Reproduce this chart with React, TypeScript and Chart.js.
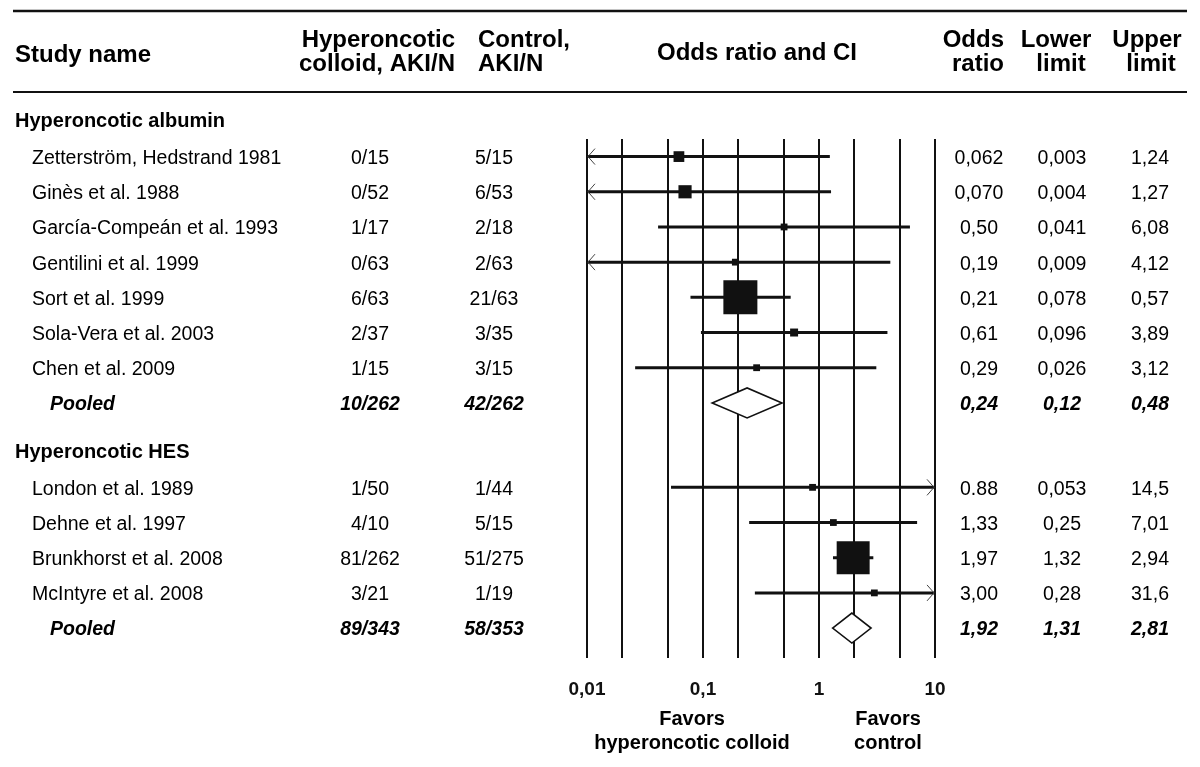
import React, { useEffect, useRef } from 'react';
import { Chart, registerables } from 'chart.js';

Chart.register(...registerables);

// ---------- data ----------
const albuminStudies = [
  'Zetterström, Hedstrand 1981',
  'Ginès et al. 1988',
  'García-Compeán et al. 1993',
  'Gentilini et al. 1999',
  'Sort et al. 1999',
  'Sola-Vera et al. 2003',
  'Chen et al. 2009',
];
const albuminColloid = ['0/15', '0/52', '1/17', '0/63', '6/63', '2/37', '1/15'];
const albuminControl = ['5/15', '6/53', '2/18', '2/63', '21/63', '3/35', '3/15'];
const albuminOR = ['0,062', '0,070', '0,50', '0,19', '0,21', '0,61', '0,29'];
const albuminLower = ['0,003', '0,004', '0,041', '0,009', '0,078', '0,096', '0,026'];
const albuminUpper = ['1,24', '1,27', '6,08', '4,12', '0,57', '3,89', '3,12'];
const albuminWeight = [10, 15, 4, 4, 100, 5.5, 4];
const albuminPooled = ['10/262', '42/262', '0,24', '0,12', '0,48'];

const hesStudies = ['London et al. 1989', 'Dehne et al. 1997', 'Brunkhorst et al. 2008', 'McIntyre et al. 2008'];
const hesColloid = ['1/50', '4/10', '81/262', '3/21'];
const hesControl = ['1/44', '5/15', '51/275', '1/19'];
const hesOR = ['0.88', '1,33', '1,97', '3,00'];
const hesLower = ['0,053', '0,25', '1,32', '0,28'];
const hesUpper = ['14,5', '7,01', '2,94', '31,6'];
const hesWeight = [4, 4, 94, 4];
const hesPooled = ['89/343', '58/353', '1,92', '1,31', '2,81'];

const groupTitles = ['Hyperoncotic albumin', 'Hyperoncotic HES'];
const pooledLabel = 'Pooled';

const axisTicks = [0.01, 0.02, 0.05, 0.1, 0.2, 0.5, 1, 2, 5, 10];
const axisTickLabels: Record<string, string> = { '0.01': '0,01', '0.1': '0,1', '1': '1', '10': '10' };

// ---------- helpers ----------
const num = (s: string) => parseFloat(s.replace(',', '.'));
const FONT = '"Liberation Sans", Arial, Helvetica, sans-serif';
const INK = '#111111';
const GROUP_GAP = 1.4;

type Row = {
  kind: 'header' | 'study' | 'pooled';
  pos: number;
  label: string;
  colloid?: string;
  control?: string;
  or?: string;
  lower?: string;
  upper?: string;
  weight?: number;
};

function buildRows(): Row[] {
  const rows: Row[] = [];
  const groups = [
    { title: groupTitles[0], names: albuminStudies, col: albuminColloid, ctl: albuminControl, or: albuminOR, lo: albuminLower, up: albuminUpper, w: albuminWeight, pooled: albuminPooled },
    { title: groupTitles[1], names: hesStudies, col: hesColloid, ctl: hesControl, or: hesOR, lo: hesLower, up: hesUpper, w: hesWeight, pooled: hesPooled },
  ];
  let pos = 0;
  groups.forEach((g, gi) => {
    if (gi > 0) pos += GROUP_GAP;
    rows.push({ kind: 'header', pos, label: g.title });
    g.names.forEach((n, i) => {
      pos += 1;
      rows.push({ kind: 'study', pos, label: n, colloid: g.col[i], control: g.ctl[i], or: g.or[i], lower: g.lo[i], upper: g.up[i], weight: g.w[i] });
    });
    pos += 1;
    rows.push({ kind: 'pooled', pos, label: pooledLabel, colloid: g.pooled[0], control: g.pooled[1], or: g.pooled[2], lower: g.pooled[3], upper: g.pooled[4] });
  });
  return rows;
}

const rows = buildRows();
const studyRows = rows.filter((r) => r.kind === 'study');

const forestPlugin = {
  id: 'forest',
  beforeDatasetsDraw(chart: any) {
    const { ctx, chartArea } = chart;
    const x = chart.scales.x;
    const y = chart.scales.y;
    ctx.save();
    for (const r of rows) {
      if (r.kind === 'header') continue;
      const py = y.getPixelForValue(r.pos);
      const lo = num(r.lower!);
      const hi = num(r.upper!);
      const or = num(r.or!);
      if (r.kind === 'study') {
        const x1 = Math.max(chartArea.left, x.getPixelForValue(lo));
        const x2 = Math.min(chartArea.right, x.getPixelForValue(hi));
        ctx.strokeStyle = INK;
        ctx.lineWidth = 3;
        ctx.beginPath();
        ctx.moveTo(x1, py);
        ctx.lineTo(x2, py);
        ctx.stroke();
        ctx.lineWidth = 1;
        ctx.strokeStyle = '#444';
        if (lo < x.min) {
          ctx.beginPath();
          ctx.moveTo(chartArea.left + 8, py - 8);
          ctx.lineTo(chartArea.left + 1, py);
          ctx.lineTo(chartArea.left + 8, py + 8);
          ctx.stroke();
        }
        if (hi > x.max) {
          ctx.beginPath();
          ctx.moveTo(chartArea.right - 8, py - 8);
          ctx.lineTo(chartArea.right - 1, py);
          ctx.lineTo(chartArea.right - 8, py + 8);
          ctx.stroke();
        }
      } else {
        const xl = x.getPixelForValue(lo);
        const xr = x.getPixelForValue(hi);
        const xc = x.getPixelForValue(or);
        const h = 15;
        ctx.beginPath();
        ctx.moveTo(xl, py);
        ctx.lineTo(xc, py - h);
        ctx.lineTo(xr, py);
        ctx.lineTo(xc, py + h);
        ctx.closePath();
        ctx.fillStyle = '#ffffff';
        ctx.fill();
        ctx.strokeStyle = INK;
        ctx.lineWidth = 1.6;
        ctx.stroke();
      }
    }
    ctx.restore();
  },
  afterDraw(chart: any) {
    const { ctx } = chart;
    const y = chart.scales.y;
    ctx.save();
    ctx.fillStyle = '#000';
    ctx.textBaseline = 'middle';

    // header rules
    ctx.strokeStyle = INK;
    ctx.lineWidth = 2.5;
    ctx.beginPath();
    ctx.moveTo(13, 11);
    ctx.lineTo(1187, 11);
    ctx.stroke();
    ctx.lineWidth = 2;
    ctx.beginPath();
    ctx.moveTo(13, 92);
    ctx.lineTo(1187, 92);
    ctx.stroke();

    // header texts
    ctx.font = `bold 24px ${FONT}`;
    ctx.textAlign = 'left';
    ctx.fillText('Study name', 15, 55);
    ctx.textAlign = 'right';
    ctx.fillText('Hyperoncotic', 455, 40);
    ctx.fillText('colloid, AKI/N', 455, 64);
    ctx.textAlign = 'left';
    ctx.fillText('Control,', 478, 40);
    ctx.fillText('AKI/N', 478, 64);
    ctx.textAlign = 'center';
    ctx.fillText('Odds ratio and CI', 757, 53);
    ctx.textAlign = 'right';
    ctx.fillText('Odds', 1004, 40);
    ctx.fillText('ratio', 1004, 64);
    ctx.textAlign = 'center';
    ctx.fillText('Lower', 1056, 40);
    ctx.fillText('limit', 1061, 64);
    ctx.fillText('Upper', 1147, 40);
    ctx.fillText('limit', 1151, 64);

    // rows
    for (const r of rows) {
      const py = y.getPixelForValue(r.pos) + 2;
      if (r.kind === 'header') {
        ctx.font = `bold 20px ${FONT}`;
        ctx.textAlign = 'left';
        ctx.fillText(r.label, 15, py - 2);
        continue;
      }
      if (r.kind === 'study') {
        ctx.font = `19.5px ${FONT}`;
        ctx.textAlign = 'left';
        ctx.fillText(r.label, 32, py);
      } else {
        ctx.font = `italic bold 19.5px ${FONT}`;
        ctx.textAlign = 'left';
        ctx.fillText(r.label, 50, py);
      }
      ctx.textAlign = 'center';
      ctx.fillText(r.colloid!, 370, py);
      ctx.fillText(r.control!, 494, py);
      ctx.fillText(r.or!, 979, py);
      ctx.fillText(r.lower!, 1062, py);
      ctx.fillText(r.upper!, 1150, py);
    }

    // favors labels
    ctx.font = `bold 20px ${FONT}`;
    ctx.textAlign = 'center';
    ctx.fillText('Favors', 692, 719);
    ctx.fillText('hyperoncotic colloid', 692, 743);
    ctx.fillText('Favors', 888, 719);
    ctx.fillText('control', 888, 743);
    ctx.restore();
  },
};

export default function App() {
  const ref = useRef<HTMLCanvasElement | null>(null);
  useEffect(() => {
    if (!ref.current) return;
    const chart = new Chart(ref.current, {
      type: 'scatter',
      data: {
        datasets: [
          {
            data: studyRows.map((r) => ({ x: num(r.or!), y: r.pos })),
            pointStyle: 'rect',
            pointRadius: studyRows.map((r) => (3.4 * Math.sqrt(r.weight!)) / Math.SQRT2),
            pointBackgroundColor: INK,
            pointBorderWidth: 0,
            pointHoverRadius: 0,
          },
        ],
      },
      options: {
        responsive: false,
        animation: false,
        events: [],
        layout: { padding: { left: 587, right: 265, top: 139, bottom: 49 } },
        plugins: { legend: { display: false }, tooltip: { enabled: false } },
        scales: {
          x: {
            type: 'logarithmic',
            min: 0.01,
            max: 10,
            afterBuildTicks: (s: any) => {
              s.ticks = axisTicks.map((v) => ({ value: v }));
            },
            afterFit: (s: any) => {
              s.height = 60;
            },
            grid: { color: INK, lineWidth: 2, drawTicks: false },
            border: { display: false },
            ticks: {
              padding: 20,
              maxRotation: 0,
              autoSkip: false,
              color: '#111',
              font: { family: FONT, size: 19, weight: 'bold' },
              callback: (v: any) => axisTickLabels[String(v)] ?? '',
            },
          },
          y: {
            type: 'linear',
            display: false,
            reverse: true,
            min: 0.5,
            max: 15.25,
          },
        },
      },
      plugins: [forestPlugin],
    } as any);
    return () => chart.destroy();
  }, []);
  return (
    <div style={{ position: 'fixed', left: 0, top: 0, width: 1200, height: 767, background: '#fff' }}>
      <canvas ref={ref} width={1200} height={767} style={{ display: 'block' }} />
    </div>
  );
}
